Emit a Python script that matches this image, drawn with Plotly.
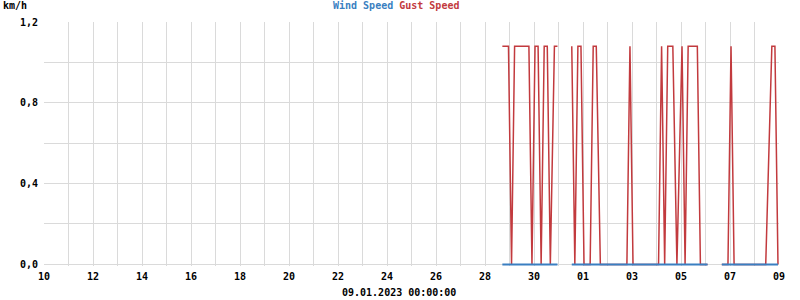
import plotly.graph_objects as go

# ---- data ----
gust_times = [
    "2022-12-28 17:00", "2022-12-28 23:00", "2022-12-29 02:00", "2022-12-29 05:00",
    "2022-12-29 19:00", "2022-12-29 22:00", "2022-12-30 01:00", "2022-12-30 04:00",
    "2022-12-30 07:00", "2022-12-30 10:00", "2022-12-30 13:00", "2022-12-30 16:00",
    "2022-12-30 20:00", "2022-12-30 23:00",
    "2022-12-31 06:00",
    "2022-12-31 13:00", "2022-12-31 16:00", "2022-12-31 19:00", "2022-12-31 22:00",
    "2023-01-01 01:00", "2023-01-01 07:00", "2023-01-01 10:00", "2023-01-01 13:00",
    "2023-01-01 17:00", "2023-01-02 19:00", "2023-01-02 22:00", "2023-01-03 01:00",
    "2023-01-04 02:00", "2023-01-04 05:00", "2023-01-04 08:00", "2023-01-04 11:00",
    "2023-01-04 16:00", "2023-01-04 20:00", "2023-01-05 01:00", "2023-01-05 04:00",
    "2023-01-05 07:00", "2023-01-05 16:00", "2023-01-05 19:00", "2023-01-06 02:00",
    "2023-01-06 09:00",
    "2023-01-06 16:00", "2023-01-06 22:00", "2023-01-07 01:00", "2023-01-07 04:00",
    "2023-01-08 11:00", "2023-01-08 17:00", "2023-01-08 20:00", "2023-01-08 23:00",
]
gust_values = [
    1.08, 1.08, 0, 1.08,
    1.08, 0, 1.08, 1.08,
    0, 1.08, 1.08, 0,
    1.08, 1.08,
    None,
    1.08, 0, 1.08, 1.08,
    0, 0, 1.08, 1.08,
    0, 0, 1.08, 0,
    0, 1.08, 0, 1.08,
    1.08, 0, 1.08, 0,
    1.08, 1.08, 0, 0,
    None,
    0, 0, 1.08, 0,
    0, 1.08, 1.08, 0,
]
wind_times = gust_times
wind_values = [None if v is None else 0 for v in gust_values]

x_range = ["2022-12-10 00:00", "2023-01-09 00:00"]
y_ticks = [0, 0.4, 0.8, 1.2]

WIND_COLOR = "#3a7fc1"
GUST_COLOR = "#c23a3e"
FONT = "DejaVu Sans Mono"

fig = go.Figure()
fig.add_trace(go.Scatter(x=gust_times, y=gust_values, mode="lines",
                         line=dict(color=GUST_COLOR, width=1.5),
                         name="Gust Speed", connectgaps=False))
fig.add_trace(go.Scatter(x=wind_times, y=wind_values, mode="lines",
                         line=dict(color=WIND_COLOR, width=2),
                         name="Wind Speed", connectgaps=False))

# plot area: 0 at y=264.3 px, 1.2 at y=22 px; a little room below 0 so the wind line shows
T, B = 22, 34
fig.update_layout(
    width=800, height=300,
    margin=dict(l=44, r=21, t=T, b=B),
    paper_bgcolor="white", plot_bgcolor="white",
    showlegend=False,
    separators=",.",
    font=dict(family=FONT, size=10, color="black", weight="bold"),
)
fig.update_xaxes(
    type="date", range=x_range,
    tick0="2022-12-10", dtick=2 * 86400000, tickformat="%d",
    showgrid=True, gridcolor="#dadada", gridwidth=1,
    minor=dict(dtick=86400000, showgrid=True, gridcolor="#dadada", gridwidth=1),
    showline=False, zeroline=False, ticks="",
    tickfont=dict(family=FONT, size=10, color="black", weight="bold"),
    ticklabelstandoff=3,
)
fig.update_yaxes(
    range=[-0.008, 1.2], tickvals=y_ticks, tickformat=".1f",
    showgrid=True, gridcolor="#dadada", gridwidth=1,
    minor=dict(dtick=0.2, showgrid=True, gridcolor="#dadada", gridwidth=1),
    showline=False, zeroline=False, ticks="",
    tickfont=dict(family=FONT, size=10, color="black", weight="bold"),
    ticklabelstandoff=5,
)

H = 300 - T - B
def py(px):
    return (300 - B - px) / H

fig.add_annotation(xref="paper", yref="paper", x=(15 - 44.3) / 734.7, y=py(6),
                   text="km/h", showarrow=False, xanchor="center", yanchor="middle",
                   font=dict(family=FONT, size=10, color="black", weight="bold"))
fig.add_annotation(xref="paper", yref="paper", x=(396.5 - 44.3) / 734.7, y=py(6),
                   text=f"<span style='color:{WIND_COLOR}'>Wind Speed</span> "
                        f"<span style='color:{GUST_COLOR}'>Gust Speed</span>",
                   showarrow=False, xanchor="center", yanchor="middle",
                   font=dict(family=FONT, size=10, weight="bold"))
fig.add_annotation(xref="paper", yref="paper", x=(399 - 44.3) / 734.7, y=py(292),
                   text="09.01.2023 00:00:00", showarrow=False, xanchor="center", yanchor="middle",
                   font=dict(family=FONT, size=10, color="black", weight="bold"))

fig.write_html("out.html")
